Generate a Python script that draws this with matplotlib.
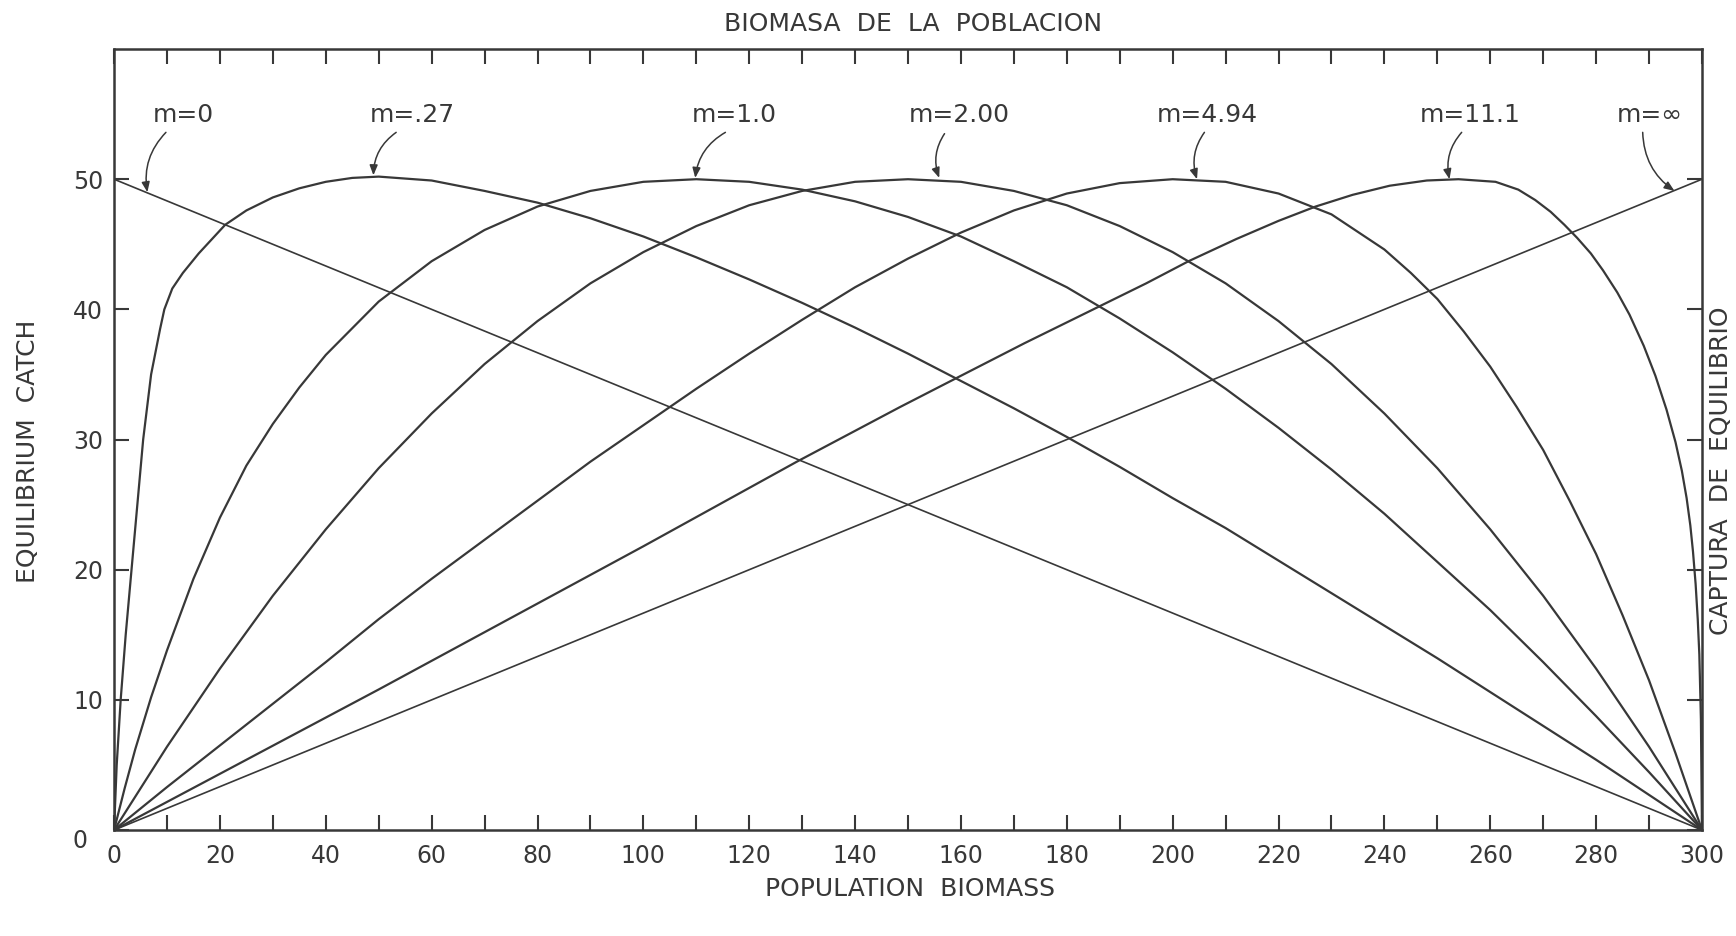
import matplotlib.pyplot as plt
from matplotlib.transforms import ScaledTranslation

plt.rcParams['font.family'] = ['DejaVu Sans', 'Noto Sans']
ink = '#383838'

# equilibrium catch vs population biomass for each value of m
biomass_m0 = [0, 300]
catch_m0 = [50, 0]

biomass_m027 = [0, 0.5, 1.25, 2.2, 3.3, 4.4, 5.5, 7, 8.7, 9.5, 11, 13, 16, 21, 25, 30, 35, 40, 45, 50,
                60, 70, 80, 90, 100, 110, 120, 130, 140, 150, 160, 170, 180, 190, 200, 210, 220, 230,
                240, 250, 260, 270, 280, 290, 300]
catch_m027 = [0, 5, 10, 15, 20, 25, 30, 35, 38.5, 40, 41.6, 42.8, 44.3, 46.5, 47.6, 48.6, 49.3, 49.8, 50.1, 50.2,
              49.9, 49.1, 48.2, 47.0, 45.6, 44.0, 42.3, 40.5, 38.6, 36.6, 34.5, 32.4, 30.2, 27.9, 25.5, 23.2, 20.7, 18.2,
              15.7, 13.2, 10.6, 8.0, 5.4, 2.7, 0]

biomass_m1 = [0, 2, 4, 7, 10, 15, 20, 25, 30, 35, 40, 50, 60, 70, 80, 90, 100, 110, 120, 130, 140, 150,
              160, 170, 180, 190, 200, 210, 220, 230, 240, 250, 260, 270, 280, 290, 300]
catch_m1 = [0, 3.2, 6.2, 10.2, 13.8, 19.3, 24.0, 28.0, 31.2, 34.0, 36.5, 40.6, 43.7, 46.1, 47.9, 49.1, 49.8, 50.0,
            49.8, 49.2, 48.3, 47.1, 45.6, 43.7, 41.7, 39.3, 36.7, 33.9, 30.9, 27.7, 24.3, 20.6, 16.9, 12.9, 8.75,
            4.45, 0]

biomass_m2 = list(range(0, 301, 10))
catch_m2 = [0, 6.4, 12.4, 18.0, 23.1, 27.8, 32.0, 35.8, 39.1, 42.0, 44.4, 46.4, 48.0, 49.1, 49.8, 50.0,
            49.8, 49.1, 48.0, 46.4, 44.4, 42.0, 39.1, 35.8, 32.0, 27.8, 23.1, 18.0, 12.4, 6.4, 0]

biomass_m494 = list(range(0, 231, 10)) + list(range(240, 301, 5))
catch_m494 = [0, 3.3, 6.5, 9.7, 12.9, 16.2, 19.3, 22.3, 25.3, 28.3, 31.1, 33.9, 36.6, 39.2, 41.7, 43.9,
              45.9, 47.6, 48.9, 49.7, 50.0, 49.8, 48.9, 47.3,
              44.6, 42.8, 40.8, 38.3, 35.6, 32.5, 29.2, 25.3, 21.2, 16.5, 11.5, 5.9, 0]

biomass_m111 = [0, 50, 100, 129, 148.5, 160, 172, 185, 195, 203, 212, 220, 227, 234, 241, 248, 254, 261, 265.3, 268.5,
                271.4, 274, 276.4, 279, 281.3, 284, 286.3, 289, 291.2, 293.3, 295.0, 296.2, 297.1, 297.8, 298.3, 298.8,
                299.2, 299.5, 299.8, 300]
catch_m111 = [0, 10.8, 21.8, 28.3, 32.5, 34.9, 37.4, 40.0, 42.0, 43.7, 45.4, 46.8, 47.9, 48.8, 49.5, 49.9, 50.0, 49.8, 49.2, 48.4,
              47.5, 46.5, 45.5, 44.3, 43.0, 41.3, 39.6, 37.2, 34.9, 32.3, 29.8, 27.6, 25.5, 23.4, 21.4, 18.9,
              16.2, 13.5, 8.5, 0]

biomass_minf = [0, 300]
catch_minf = [0, 50]

curves = [
    (biomass_m0, catch_m0, 1.2),
    (biomass_m027, catch_m027, 1.6),
    (biomass_m1, catch_m1, 1.6),
    (biomass_m2, catch_m2, 1.6),
    (biomass_m494, catch_m494, 1.6),
    (biomass_m111, catch_m111, 1.6),
    (biomass_minf, catch_minf, 1.2),
]

# label text, label centre, arrow start, arrow tip
labels = [
    ('m=0', (13.0, 54.9), (9.8, 53.6), (6.3, 49.0)),
    ('m=.27', (56.3, 54.9), (53.3, 53.6), (49.0, 50.3)),
    ('m=1.0', (117.2, 54.9), (115.5, 53.6), (109.8, 50.1)),
    ('m=2.00', (159.7, 54.9), (156.9, 53.5), (155.9, 50.1)),
    ('m=4.94', (206.5, 54.9), (206.0, 53.6), (204.6, 50.0)),
    ('m=11.1', (256.3, 54.9), (254.6, 53.6), (252.3, 50.0)),
    ('m=\u221e', (290.2, 54.9), (288.8, 53.6), (294.8, 49.1)),
]

fig = plt.figure(figsize=(17.36, 9.36), dpi=100)
ax = fig.add_axes([0.0657, 0.1132, 0.9147, 0.8344])

for xs, ys, lw in curves:
    ax.plot(xs, ys, color=ink, lw=lw, solid_joinstyle='round')

for text, pos, start, tip in labels:
    ax.text(pos[0], pos[1], text, ha='center', va='center', fontsize=18, color=ink)
    ax.annotate('', xy=tip, xytext=start,
                arrowprops=dict(arrowstyle='-|>,head_length=0.5,head_width=0.2', color=ink, lw=1.1,
                                connectionstyle='arc3,rad=0.25', shrinkA=0, shrinkB=0,
                                mutation_scale=12))

ax.set_xlim(0, 300)
ax.set_ylim(0, 60)
ax.set_xticks(range(0, 301, 20))
ax.set_xticks(range(10, 300, 20), minor=True)
ax.set_yticks(range(0, 51, 10))

ax.tick_params(which='both', direction='in', length=11, width=1.5, color=ink,
               top=True, right=True, labeltop=False, labelright=False,
               labelsize=17, labelcolor=ink)
ax.tick_params(axis='x', pad=10)
ax.tick_params(axis='y', pad=8)

for sp in ax.spines.values():
    sp.set_linewidth(1.8)
    sp.set_color(ink)

# the zero on the catch axis sits lower and further out
ylab0 = ax.get_yticklabels()[0]
ylab0.set_transform(ylab0.get_transform() + ScaledTranslation(-0.15, -0.08, fig.dpi_scale_trans))

title_kw = dict(ha='center', va='center', fontsize=18, color=ink)
fig.text(913 / 1736, 1 - 24 / 936, 'BIOMASA  DE  LA  POBLACION', **title_kw)
fig.text(910 / 1736, 1 - 889 / 936, 'POPULATION  BIOMASS', **title_kw)
fig.text(28 / 1736, 1 - 451 / 936, 'EQUILIBRIUM  CATCH', rotation=90, **title_kw)
fig.text(1721 / 1736, 1 - 471 / 936, 'CAPTURA  DE  EQUILIBRIO', rotation=90, **title_kw)

fig.savefig('out.png', dpi=100, facecolor='white')
